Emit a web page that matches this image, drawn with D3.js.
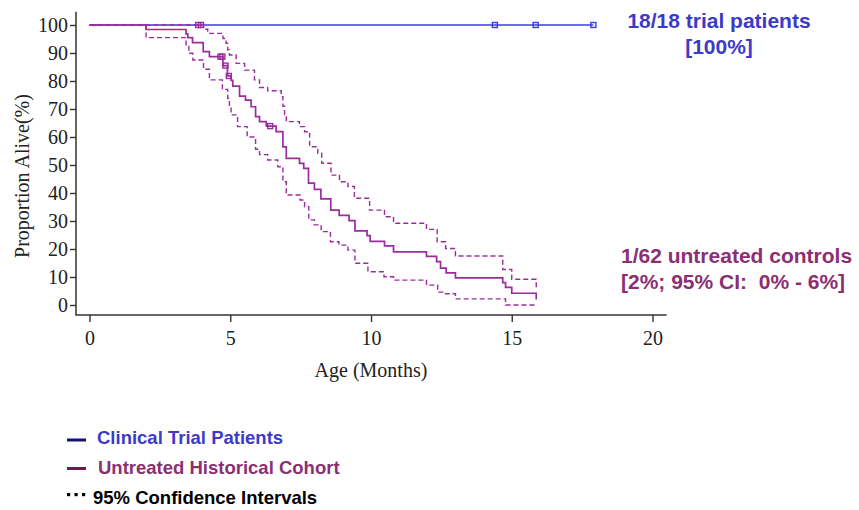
<!DOCTYPE html>
<html>
<head>
<meta charset="utf-8">
<script src="https://cdn.jsdelivr.net/npm/d3@7"></script>
<style>
  body { margin: 0; background: #fff; }
  text { white-space: pre; }
</style>
</head>
<body>
<svg id="chart1"></svg>
<script>
var width = 859;
var height = 510;

// clinical trial arm (no deaths)
var trialT = [0, 17.9];
var trialV = [100, 100];
var trialCensorT = [14.4, 15.85, 17.9];

// untreated historical cohort, KM estimate
var cohortT = [0, 2.01, 3.43, 3.49, 3.66, 4.04, 4.26, 4.74, 4.9, 5.03, 5.09, 5.33, 5.54, 5.74, 5.9, 6.04, 6.28, 6.63,
    6.87, 6.99, 7.46, 7.61, 7.78, 7.99, 8.22, 8.57, 8.87, 9.22, 9.43, 9.86, 9.97, 10.48, 10.8, 11.97, 12.33, 12.47,
    12.67, 13.0, 14.68, 14.78, 15.0, 15.87];
var cohortV = [100, 98.4, 96.8, 95.5, 93.7, 90.5, 88.7, 85.5, 81.8, 80.2, 78.2, 74.6, 73.2, 70.8, 67.3, 65.5, 63.9, 61.9,
    56.5, 52.4, 50.6, 48.8, 43.5, 41.3, 37.9, 33.9, 32.0, 30.1, 26.5, 24.8, 22.7, 21.1, 19.0, 17.4, 15.5, 13.2,
    11.5, 9.7, 8.0, 6.3, 4.2, 2.0];
var cohortCensorT = [4.65, 4.72, 4.83, 4.95, 6.42];
var cohortCensorV = [88.7, 88.7, 85.5, 81.8, 63.9];

// 95% CI, upper
var upperT = [0, 4.05, 4.2, 4.74, 4.85, 4.91, 4.97, 5.21, 5.51, 5.86, 6.04, 6.33, 6.81, 6.87, 6.93, 6.99, 7.46, 7.64,
    7.82, 8.11, 8.25, 8.58, 8.88, 9.18, 9.41, 9.95, 10.48, 10.8, 11.97, 12.35, 12.65, 13.0, 14.68, 15.0, 15.87];
var upperV = [100, 98.5, 97.0, 95.2, 93.5, 91.1, 89.3, 86.3, 83.9, 80.4, 77.7, 76.5, 74.4, 71.0, 68.0, 65.5, 63.7, 61.9,
    56.5, 54.2, 50.6, 46.4, 44.0, 42.3, 38.1, 33.9, 31.5, 29.2, 27.0, 22.6, 20.2, 17.5, 12.7, 9.2, 6.0];
var upperCensorT = [3.86, 3.96];
var upperCensorV = [100, 100];

// 95% CI, lower
var lowerT = [0, 2.01, 3.43, 3.53, 3.67, 4.05, 4.26, 4.72, 4.91, 4.97, 5.03, 5.26, 5.6, 5.9, 6.04, 6.33, 6.69, 6.87,
    6.99, 7.48, 7.64, 7.79, 7.99, 8.23, 8.56, 8.86, 9.18, 9.43, 9.89, 10.46, 10.8, 11.97, 12.37, 12.65, 13.0, 14.78, 15.87];
var lowerV = [100, 95.5, 92.9, 89.9, 87.5, 84.2, 80.4, 77.0, 73.8, 70.8, 67.9, 63.7, 60.0, 55.6, 53.7, 51.8, 49.4, 44.0,
    39.3, 37.5, 35.1, 30.4, 28.6, 26.2, 22.6, 21.4, 19.6, 14.9, 11.9, 10.1, 8.9, 7.1, 4.6, 4.0, 2.2, 0, 0];

var xTicks = [0, 5, 10, 15, 20];
var yTicks = [0, 10, 20, 30, 40, 50, 60, 70, 80, 90, 100];

var blue = "#3a3af0";
var purple = "#9b2c9f";
var blueText = "#3b3bc8";
var purpleText = "#8a2f72";

var svg = d3.select("#chart1")
    .attr("width", width)
    .attr("height", height);

var x = d3.scaleLinear().domain([0, 20]).range([89.5, 652.5]);
var y = d3.scaleLinear().domain([0, 100]).range([305, 25]);

// axes
var yAxis = svg.append("g")
    .attr("transform", "translate(76,0)")
    .call(d3.axisLeft(y).tickValues(yTicks).tickSize(6).tickSizeOuter(0).tickPadding(2));
var xAxis = svg.append("g")
    .attr("transform", "translate(0,315)")
    .call(d3.axisBottom(x).tickValues(xTicks).tickSize(7).tickSizeOuter(0).tickPadding(9));

[yAxis, xAxis].forEach(function(g) {
    g.select(".domain").remove();
    g.selectAll(".tick line").attr("stroke", "#333").attr("stroke-width", 1.4);
    g.selectAll(".tick text")
        .attr("fill", "#222")
        .style("font-family", "'Liberation Serif', 'Times New Roman', serif")
        .style("font-size", "20px");
});

svg.append("line")
    .attr("x1", 76).attr("x2", 76)
    .attr("y1", y(104.7)).attr("y2", 315)
    .attr("stroke", "#333").attr("stroke-width", 1.5);
svg.append("line")
    .attr("x1", 75.3).attr("x2", x(20.5))
    .attr("y1", 315).attr("y2", 315)
    .attr("stroke", "#333").attr("stroke-width", 1.5);

svg.append("text")
    .attr("transform", "translate(29,176) rotate(-90)")
    .attr("text-anchor", "middle")
    .attr("fill", "#222")
    .style("font-family", "'Liberation Serif', serif")
    .style("font-size", "20px")
    .text("Proportion Alive(%)");

svg.append("text")
    .attr("x", x(10))
    .attr("y", 377)
    .attr("text-anchor", "middle")
    .attr("fill", "#222")
    .style("font-family", "'Liberation Serif', serif")
    .style("font-size", "20px")
    .text("Age (Months)");

// curves
var line = d3.line()
    .x(d => x(d[0]))
    .y(d => y(d[1]))
    .curve(d3.curveStepAfter);

var zip = (a, b) => a.map((t, i) => [t, b[i]]);

svg.append("path")
    .attr("d", line(zip(trialT, trialV)))
    .attr("fill", "none")
    .attr("stroke", blue)
    .attr("stroke-width", 1.6);

svg.selectAll("rect.trial")
    .data(trialCensorT)
    .enter()
    .append("rect")
    .classed("trial", true)
    .attr("x", d => x(d) - 2.5)
    .attr("y", y(100) - 2.5)
    .attr("width", 5)
    .attr("height", 5)
    .attr("fill", "none")
    .attr("stroke", blue)
    .attr("stroke-width", 1.4);

[[upperT, upperV], [lowerT, lowerV]].forEach(function(ci) {
    svg.append("path")
        .attr("d", line(zip(ci[0], ci[1])))
        .attr("fill", "none")
        .attr("stroke", purple)
        .attr("stroke-width", 1.4)
        .attr("stroke-dasharray", "5,3");
});

svg.append("path")
    .attr("d", line(zip(cohortT, cohortV)))
    .attr("fill", "none")
    .attr("stroke", purple)
    .attr("stroke-width", 1.7);

var censors = zip(cohortCensorT, cohortCensorV).concat(zip(upperCensorT, upperCensorV));
svg.selectAll("rect.cohort")
    .data(censors)
    .enter()
    .append("rect")
    .classed("cohort", true)
    .attr("x", d => x(d[0]) - 2.5)
    .attr("y", d => y(d[1]) - 2.5)
    .attr("width", 5)
    .attr("height", 5)
    .attr("fill", "none")
    .attr("stroke", purple)
    .attr("stroke-width", 1.4);

// annotations
var ann = svg.append("g")
    .style("font-family", "'Liberation Sans', Arial, sans-serif")
    .style("font-weight", "bold")
    .style("font-size", "21px");

ann.append("text").attr("x", 719).attr("y", 28).attr("text-anchor", "middle")
    .attr("fill", blueText).text("18/18 trial patients");
ann.append("text").attr("x", 719).attr("y", 54).attr("text-anchor", "middle")
    .attr("fill", blueText).text("[100%]");
ann.append("text").attr("x", 621).attr("y", 263)
    .attr("fill", purpleText).text("1/62 untreated controls");
ann.append("text").attr("x", 621).attr("y", 289)
    .attr("fill", purpleText).text("[2%; 95% CI:  0% - 6%]");

// legend
var legend = svg.append("g")
    .style("font-family", "'Liberation Sans', Arial, sans-serif")
    .style("font-weight", "bold")
    .style("font-size", "18.5px");

legend.append("rect").attr("x", 67).attr("y", 438.5).attr("width", 19).attr("height", 3).attr("fill", "#141470");
legend.append("text").attr("x", 97).attr("y", 444).attr("fill", blueText).text("Clinical Trial Patients");

legend.append("rect").attr("x", 67).attr("y", 467).attr("width", 19).attr("height", 3).attr("fill", "#7a1450");
legend.append("text").attr("x", 98).attr("y", 474).attr("fill", purpleText).text("Untreated Historical Cohort");

[67, 74.5, 82].forEach(function(d) {
    legend.append("rect").attr("x", d).attr("y", 493).attr("width", 3.2).attr("height", 3.2).attr("fill", "#000");
});
legend.append("text").attr("x", 93).attr("y", 504).attr("fill", "#000").text("95% Confidence Intervals");
</script>
</body>
</html>
